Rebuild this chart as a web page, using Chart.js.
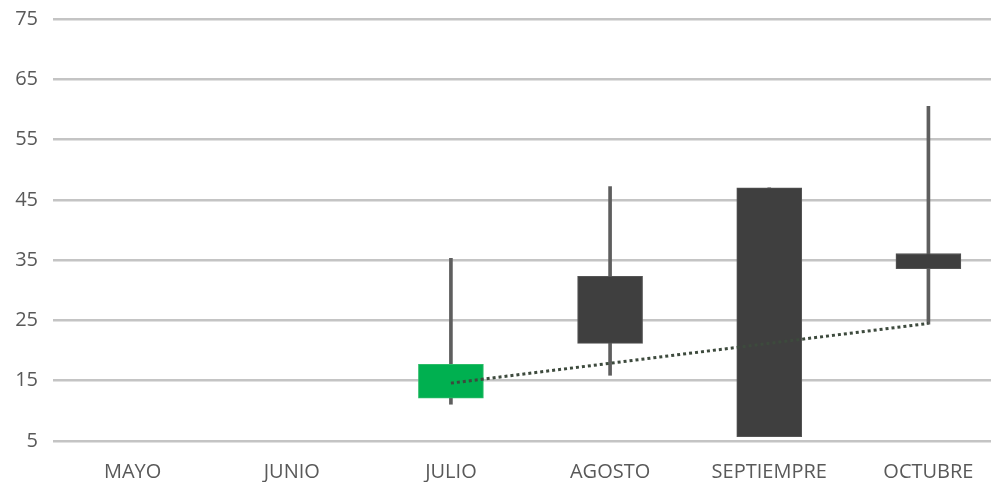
<!DOCTYPE html>
<html>
<head>
<meta charset="utf-8">
<script src="https://cdn.jsdelivr.net/npm/chart.js@4/dist/chart.umd.min.js"></script>
<style>
  html, body { margin:0; padding:0; background:#fff; overflow:hidden; }
  #wrap { width:1008px; height:490px; position:relative; top:-8px; }
</style>
</head>
<body>
<div id="wrap"><canvas id="chart"></canvas></div>
<script>
// values
const months = ['MAYO', 'JUNIO', 'JULIO', 'AGOSTO', 'SEPTIEMPRE', 'OCTUBRE'];
const opens  = [null, null, 12.1, 32.3, 47.0, 36.1];
const highs  = [null, null, 35.3, 47.2, 47.0, 60.5];
const lows   = [null, null, 11.1, 15.9, 5.7, 24.4];
const closes = [null, null, 17.7, 21.2, 5.7, 33.6];
const trend  = [null, null, 14.6, 17.9, 21.2, 24.5];
const yTicks = [5, 15, 25, 35, 45, 55, 65, 75];

const UP = '#00b050', DOWN = '#3f3f3f', WICK = '#5e5e5e', TXT = '#595959';
const FONT = '"Open Sans", "Noto Sans", sans-serif';

const wickData = months.map((_, i) => highs[i] == null ? null : [lows[i], highs[i]]);
const bodyData = months.map((_, i) => opens[i] == null ? null : [opens[i], closes[i]]);
const bodyColors = months.map((_, i) => closes[i] > opens[i] ? UP : DOWN);
const bodyBorders = months.map((_, i) => closes[i] > opens[i] ? '#2cbd68' : '#555');

new Chart(document.getElementById('chart').getContext('2d'), {
  type: 'bar',
  data: {
    labels: months,
    datasets: [
      { type:'line', label:'Tendencia', data: trend, borderColor:'#3d4a3d', borderWidth:3,
        borderDash:[3,3], pointRadius:0, fill:false, spanGaps:true, order:0 },
      { label:'Cuerpo', data: bodyData, backgroundColor: bodyColors, borderColor: bodyBorders,
        borderWidth:1, borderSkipped:false, barThickness:65, grouped:false, order:1 },
      { label:'Mecha', data: wickData, backgroundColor: WICK, borderWidth:0,
        barThickness:3, grouped:false, order:2 }
    ]
  },
  options: {
    responsive: true,
    maintainAspectRatio: false,
    animation: false,
    layout: { padding: { top: 5, right: 0, left: 0, bottom: 0 } },
    plugins: { legend: { display:false }, tooltip: { enabled:false } },
    scales: {
      x: {
        grid: { display:false, drawTicks:false },
        border: { display:false },
        ticks: { color: TXT, padding: 19, font: { family: FONT, size:20 } },
        afterFit: s => { s.height = 41; }
      },
      y: {
        min: 5, max: 75,
        afterBuildTicks: s => { s.ticks = yTicks.map(v => ({ value: v })); },
        grid: { color:'#c4c4c4', lineWidth:2.5, drawTicks:false },
        border: { display:false },
        ticks: { color: TXT, padding: 15, font: { family: FONT, size:20 } },
        afterFit: s => { s.width = 53; }
      }
    }
  }
});
</script>
</body>
</html>
